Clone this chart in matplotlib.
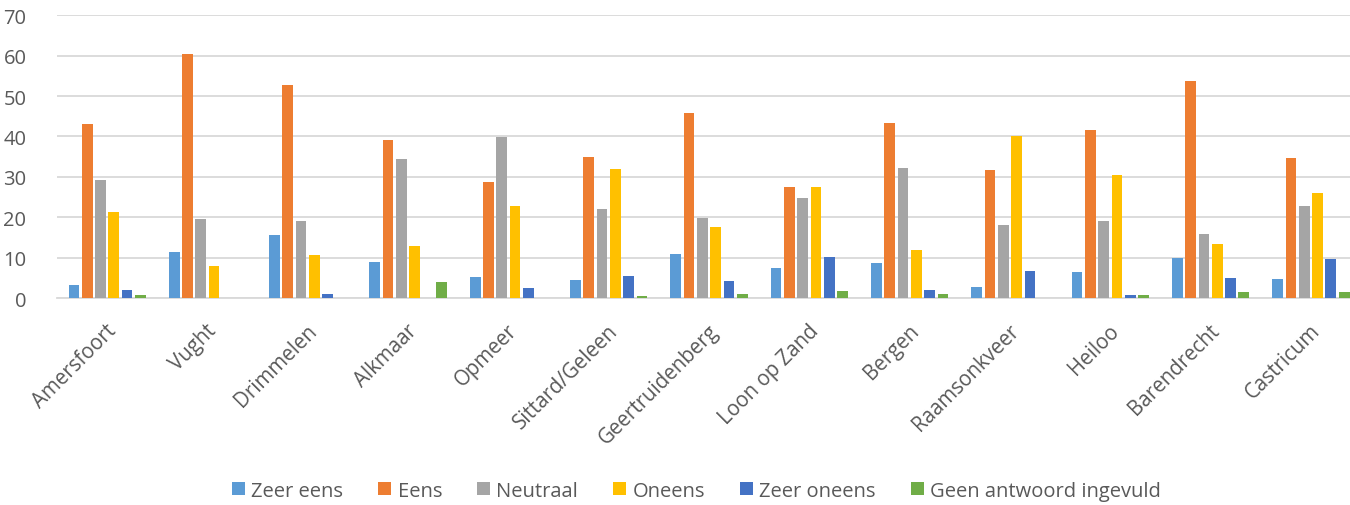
import matplotlib
matplotlib.use('Agg')
import matplotlib.pyplot as plt
import matplotlib.transforms as mtransforms
import numpy as np
from matplotlib.patches import Patch

plt.rcParams['font.family'] = ['Open Sans', 'DejaVu Sans']

places = ['Amersfoort', 'Vught', 'Drimmelen', 'Alkmaar', 'Opmeer',
          'Sittard/Geleen', 'Geertruidenberg', 'Loon op Zand', 'Bergen',
          'Raamsonkveer', 'Heiloo', 'Barendrecht', 'Castricum']

labels = ['Zeer eens', 'Eens', 'Neutraal', 'Oneens', 'Zeer oneens',
          'Geen antwoord ingevuld']

zeer_eens = [3.3, 11.3, 15.6, 8.9, 5.3, 4.5, 10.9, 7.4, 8.6, 2.7, 6.4, 10.0, 4.7]
eens = [43.0, 60.5, 52.8, 39.2, 28.7, 34.8, 45.9, 27.5, 43.2, 31.6, 41.5, 53.7, 34.7]
neutraal = [29.2, 19.5, 19.1, 34.3, 39.9, 22.0, 19.8, 24.7, 32.2, 18.1, 19.1, 15.8, 22.8]
oneens = [21.2, 8.0, 10.7, 12.9, 22.8, 31.9, 17.7, 27.5, 12.0, 40.2, 30.4, 13.4, 25.9]
zeer_oneens = [1.9, 0, 1.1, 0, 2.6, 5.4, 4.1, 10.1, 2.1, 6.6, 0.8, 4.9, 9.6]
geen_antwoord = [0.7, 0, 0, 3.9, 0, 0.4, 1.0, 1.7, 1.0, 0, 0.8, 1.5, 1.6]

series = [zeer_eens, eens, neutraal, oneens, zeer_oneens, geen_antwoord]
colors = ['#5B9BD5', '#ED7D31', '#A5A5A5', '#FFC000', '#4472C4', '#70AD47']

text_color = '#595959'
grid_color = '#D9D9D9'

fig = plt.figure(figsize=(13.5, 5.06), dpi=100)
ax = fig.add_axes([0.0422, 0.409, 0.966, 0.559])

x = np.arange(len(places))
pitch = 0.1326
width = 0.107
for i, (vals, col) in enumerate(zip(series, colors)):
    ax.bar(x + (i - 2.5) * pitch, vals, width=width, color=col,
           label=labels[i], zorder=3)

ax.set_xlim(-0.5, len(places) - 0.5)
ax.set_ylim(0, 70)
ax.set_yticks(range(0, 71, 10))
ax.yaxis.grid(True, color=grid_color, linewidth=1.3, zorder=0)
ax.set_axisbelow(True)

for s in ['top', 'right', 'left']:
    ax.spines[s].set_visible(False)
ax.spines['bottom'].set_color(grid_color)
ax.spines['bottom'].set_linewidth(1.3)

ax.tick_params(axis='y', length=0, pad=22, labelsize=14.5, labelcolor=text_color)
ax.tick_params(axis='x', length=0, pad=21, labelsize=14.8, labelcolor=text_color)
ax.set_xticks(x)
ax.set_xticklabels(places, rotation=45, ha='right', va='center',
                   rotation_mode='anchor')
# shift labels a little to the right, like the original
offset = mtransforms.ScaledTranslation(6 / 100, 0, fig.dpi_scale_trans)
for lbl in ax.get_xticklabels():
    lbl.set_transform(lbl.get_transform() + offset)

handles = [Patch(facecolor=c, label=l) for c, l in zip(colors, labels)]
fig.legend(handles=handles, loc='center', bbox_to_anchor=(0.516, 0.028),
           ncol=6, frameon=False, fontsize=14.5, labelcolor=text_color,
           handlelength=0.65, handleheight=0.65, handletextpad=0.3,
           columnspacing=1.75)

fig.savefig('out.png', dpi=100)
